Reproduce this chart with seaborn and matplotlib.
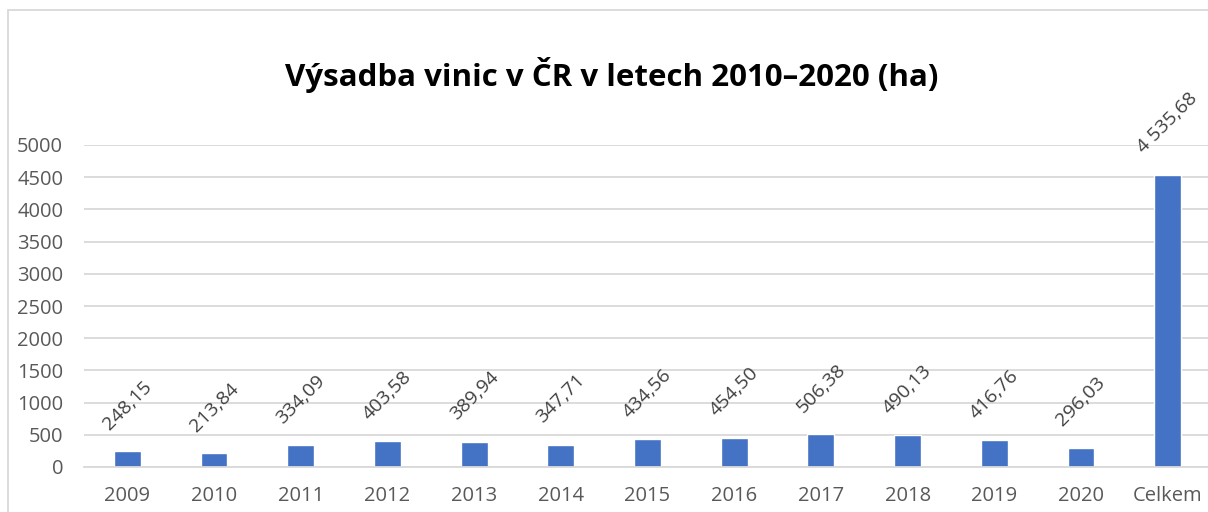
import matplotlib
matplotlib.use('Agg')
import matplotlib.pyplot as plt
from matplotlib.patches import Rectangle
import seaborn as sns
import pandas as pd

# data
categories = ['2009', '2010', '2011', '2012', '2013', '2014', '2015',
              '2016', '2017', '2018', '2019', '2020', 'Celkem']
values = [248.15, 213.84, 334.09, 403.58, 389.94, 347.71, 434.56,
          454.50, 506.38, 490.13, 416.76, 296.03, 4535.68]
yticks = [0, 500, 1000, 1500, 2000, 2500, 3000, 3500, 4000, 4500, 5000]
title = 'Výsadba vinic v ČR v letech 2010–2020 (ha)'

df = pd.DataFrame({'rok': categories, 'ha': values})

sns.set_style('white')
plt.rcParams['font.family'] = ['Open Sans', 'DejaVu Sans']

fig = plt.figure(figsize=(12.08, 5.12), dpi=100)
ax = fig.add_axes([84 / 1208, 45 / 512, 1127 / 1208, 322 / 512])

sns.barplot(data=df, x='rok', y='ha', color='#4472C4', width=0.31,
            saturation=1, ax=ax)

def cz_fmt(v):
    s = f'{v:,.2f}'
    return s.replace(',', ' ').replace('.', ',')

for i, v in enumerate(values):
    ax.annotate(cz_fmt(v), xy=(i, v), xytext=(0, 13), textcoords='offset points',
                ha='center', va='bottom', rotation=45, fontsize=14, color='#404040')

ax.set_ylim(0, 5000)
ax.set_yticks(yticks)
ax.set_xlim(-0.5, len(categories) - 0.5)
ax.grid(axis='y', color='#D9D9D9', linewidth=1.3)
ax.set_axisbelow(True)
for s in ['top', 'right', 'left']:
    ax.spines[s].set_visible(False)
ax.spines['bottom'].set_color('#D9D9D9')
ax.spines['bottom'].set_linewidth(1.3)
ax.tick_params(axis='both', length=0, labelsize=14.5, colors='#595959')
ax.tick_params(axis='x', pad=14)
ax.tick_params(axis='y', pad=15)
ax.set_xlabel('')
ax.set_ylabel('')

fig.text(612 / 1208, 1 - 75 / 512, title, ha='center', va='center',
         fontsize=22.5, fontweight='bold', color='black')

# chart area border (cropped on right and bottom)
fig.patches.append(Rectangle((8 / 1208, -0.1), 1.2, 1 - 10 / 512 + 0.1,
                             transform=fig.transFigure, fill=False,
                             edgecolor='#D9D9D9', linewidth=1.3))

fig.savefig('out.png', dpi=100)
